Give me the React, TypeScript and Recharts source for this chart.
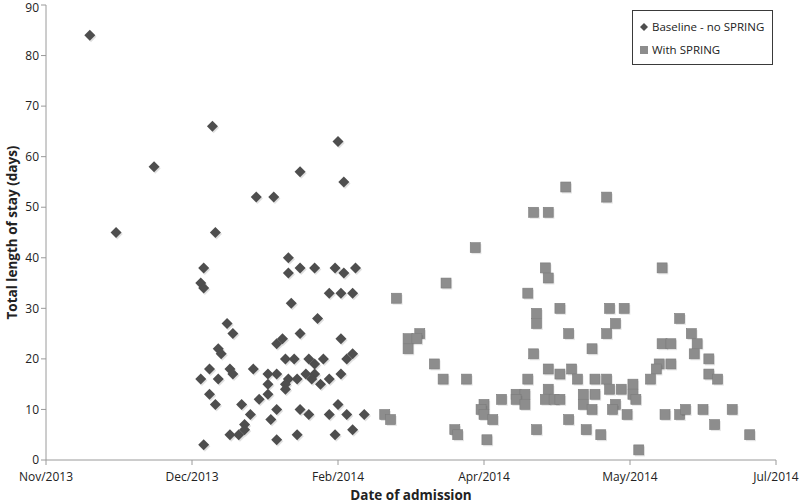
import { ScatterChart, Scatter, XAxis, YAxis, Legend } from 'recharts';

// x = days since the axis start (early Nov 2013), y = total length of stay (days)
const baselineDays = [
  15, 24, 37, 57, 58, 72, 78, 87, 83, 87, 54, 53, 54, 83, 84, 62, 64, 87, 59, 60,
  81, 79, 82, 85, 56, 63, 64, 71, 53, 59, 76, 79, 83, 86, 76, 82, 82, 56, 76, 73,
  58, 67, 79, 87, 70, 77, 68, 68, 63, 66, 79, 86, 54, 100, 102, 92, 99, 102, 106, 97,
  101, 105, 93, 101, 90, 95, 92, 105, 103, 89, 92, 91, 97, 94, 101, 90, 100, 97, 103, 109,
  105, 99,
];
const baselineStay = [
  84, 45, 58, 66, 45, 52, 52, 57, 40, 38, 38, 35, 34, 37, 31, 27, 25, 25, 22, 21,
  24, 23, 20, 20, 18, 18, 17, 18, 16, 16, 17, 17, 16, 16, 15, 15, 14, 13, 13, 12,
  11, 11, 10, 10, 9, 8, 7, 6, 5, 5, 4, 5, 3, 63, 55, 38, 38, 37, 38, 33,
  33, 33, 28, 24, 20, 20, 19, 21, 20, 17, 17, 16, 16, 15, 17, 9, 11, 9, 9, 9,
  6, 5,
];

const springDays = [
  116, 118, 120, 124, 128, 127, 124, 133, 136, 144, 137, 147, 140, 141, 151, 150, 149, 150, 153, 156,
  161, 164, 161, 164, 165, 168, 168, 167, 165, 168, 171, 172, 172, 172, 171, 167, 172, 178, 192, 211,
  176, 193, 198, 195, 192, 179, 187, 217, 221, 223, 222, 211, 214, 227, 227, 230, 210, 214, 209, 207,
  176, 180, 182, 188, 192, 174, 176, 184, 188, 193, 197, 201, 201, 202, 184, 187, 195, 194, 199, 179,
  185, 190, 203, 212, 217, 219, 225, 235, 229, 241,
];
const springStay = [
  9, 8, 32, 24, 25, 24, 22, 19, 16, 16, 35, 42, 6, 5, 4, 11, 10, 9, 8, 12,
  13, 13, 12, 11, 33, 29, 27, 21, 16, 6, 38, 36, 18, 14, 12, 49, 49, 54, 52, 38,
  30, 30, 30, 27, 25, 25, 22, 28, 25, 23, 21, 23, 23, 20, 17, 16, 19, 19, 18, 16,
  17, 18, 16, 16, 16, 12, 12, 13, 13, 14, 14, 15, 13, 12, 11, 10, 11, 10, 9, 8,
  6, 5, 2, 9, 9, 10, 10, 10, 7, 5,
];

const xTicks = [0, 50, 100, 150, 200, 250];
const xTickLabels = ['Nov/2013', 'Dec/2013', 'Feb/2014', 'Apr/2014', 'May/2014', 'Jul/2014'];
const yTicks = [0, 10, 20, 30, 40, 50, 60, 70, 80, 90];

const baselineData = baselineDays.map((d, i) => ({ x: d, y: baselineStay[i] }));
const springData = springDays.map((d, i) => ({ x: d, y: springStay[i] }));

const FONT = '"Open Sans", sans-serif';

const DiamondShape = (props: any) => {
  const { cx, cy } = props;
  if (cx == null || cy == null) return null;
  const r = 5.5;
  const pts = (ox: number, oy: number) =>
    `${cx + ox},${cy - r + oy} ${cx + r + ox},${cy + oy} ${cx + ox},${cy + r + oy} ${cx - r + ox},${cy + oy}`;
  return (
    <g>
      <polygon points={pts(1.2, 1.5)} fill="#000" opacity={0.12} />
      <polygon points={pts(0, 0)} fill="#4e4e4e" />
    </g>
  );
};

const SquareShape = (props: any) => {
  const { cx, cy } = props;
  if (cx == null || cy == null) return null;
  const s = 10;
  return (
    <g>
      <rect x={cx - s / 2 + 1.2} y={cy - s / 2 + 1.5} width={s} height={s} fill="#000" opacity={0.1} />
      <rect x={cx - s / 2} y={cy - s / 2} width={s} height={s} fill="#8d8d8d" stroke="#7c7c7c" strokeWidth={0.6} />
    </g>
  );
};

const LegendBox = () => (
  <div
    style={{
      border: '1px solid #3a3a3a',
      background: '#fff',
      padding: '4px 4px 4px 6px',
      fontFamily: FONT,
      fontSize: 11.5,
      color: '#222',
      lineHeight: '23px',
      whiteSpace: 'nowrap',
      boxSizing: 'border-box',
      height: 55,
    }}
  >
    <div style={{ display: 'flex', alignItems: 'center' }}>
      <svg width={10} height={12} style={{ marginRight: 3 }}>
        <polygon points="5,2 9,6 5,10 1,6" fill="#4e4e4e" />
      </svg>
      Baseline - no SPRING
    </div>
    <div style={{ display: 'flex', alignItems: 'center' }}>
      <svg width={10} height={12} style={{ marginRight: 3 }}>
        <rect x={1} y={2} width={8} height={8} fill="#8d8d8d" />
      </svg>
      With SPRING
    </div>
  </div>
);

const App = () => {
  return (
    <div style={{ width: 800, height: 504, background: '#fff' }}>
      <style>{'body{margin:0;}'}</style>
      <ScatterChart width={800} height={504} margin={{ top: 5, right: 24, bottom: 0, left: 0 }}>
        <XAxis
          type="number"
          dataKey="x"
          domain={[0, 250]}
          ticks={xTicks}
          tickFormatter={(v: number) => xTickLabels[xTicks.indexOf(v)]}
          allowDataOverflow
          stroke="#9a9a9a"
          tickSize={5}
          tickMargin={7}
          tick={{ fill: '#222', fontSize: 12, fontFamily: FONT }}
          height={44}
          label={{
            value: 'Date of admission',
            position: 'insideBottom',
            offset: 4,
            style: { fill: '#222', fontSize: 13.5, fontWeight: 700, fontFamily: FONT },
          }}
        />
        <YAxis
          type="number"
          dataKey="y"
          domain={[0, 90]}
          ticks={yTicks}
          allowDataOverflow
          stroke="#9a9a9a"
          tickSize={5}
          width={46}
          tick={{ fill: '#222', fontSize: 12, fontFamily: FONT }}
          label={{
            value: 'Total length of stay (days)',
            angle: -90,
            position: 'insideLeft',
            offset: 12,
            style: { textAnchor: 'middle', fill: '#222', fontSize: 13.5, fontWeight: 700, fontFamily: FONT },
          }}
        />
        <Legend
          layout="vertical"
          align="center"
          verticalAlign="middle"
          wrapperStyle={{ top: 10, left: 632, width: 141 }}
          content={() => <LegendBox />}
        />
        <Scatter name="Baseline - no SPRING" data={baselineData} shape={DiamondShape} isAnimationActive={false} />
        <Scatter name="With SPRING" data={springData} shape={SquareShape} isAnimationActive={false} />
      </ScatterChart>
    </div>
  );
};

export default App;
